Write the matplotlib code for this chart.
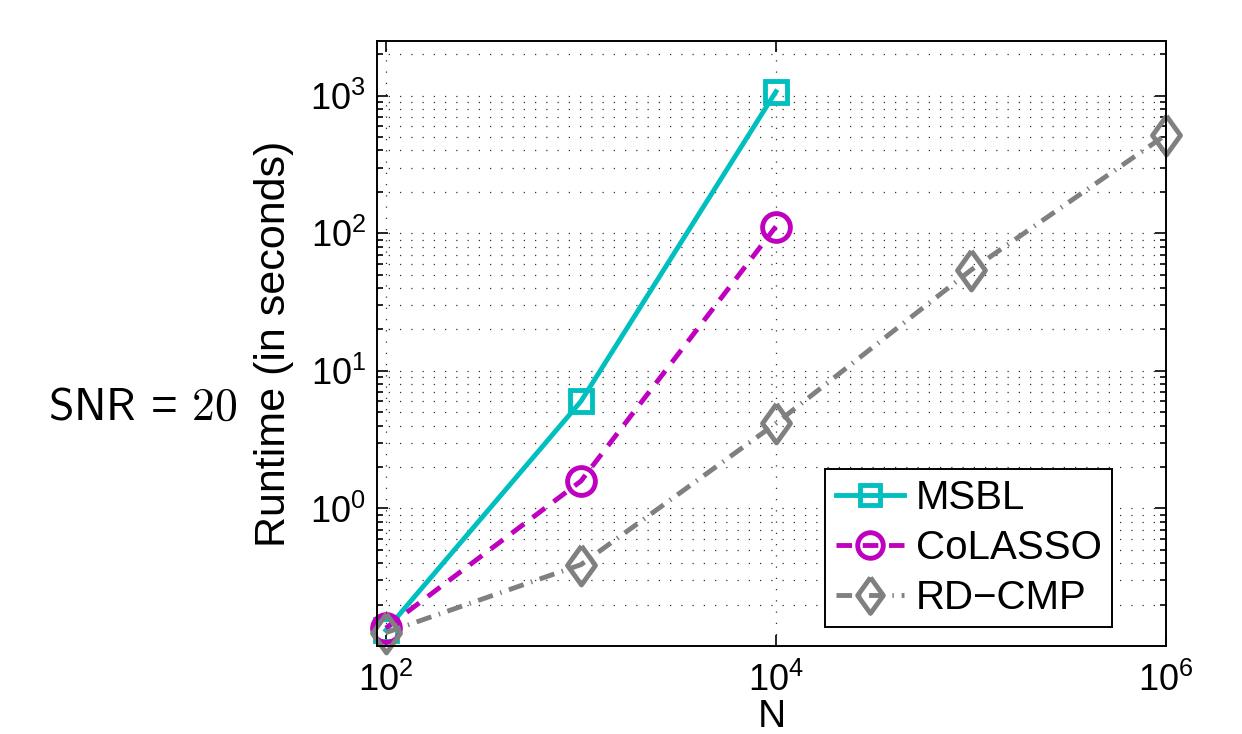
import numpy as np
from matplotlib import pyplot as plt
from matplotlib.ticker import LogLocator, FixedLocator, FuncFormatter, NullFormatter

plt.rcParams['font.family'] = ['Liberation Sans', 'DejaVu Sans']
plt.rcParams['mathtext.fontset'] = 'custom'
plt.rcParams['mathtext.rm'] = 'Liberation Sans'
plt.rcParams['mathtext.default'] = 'regular'

# data
n_msbl = [1e2, 1e3, 1e4]
t_msbl = [0.13, 6.0, 1070]
n_colasso = [1e2, 1e3, 1e4]
t_colasso = [0.135, 1.58, 112]
n_rdcmp = [1e2, 1e3, 1e4, 1e5, 1e6]
t_rdcmp = [0.125, 0.39, 4.15, 54, 520]

x_ticks = [1e2, 1e4, 1e6]
y_ticks = [1e0, 1e1, 1e2, 1e3]

cyan = '#00bfbf'
magenta = '#bf00bf'
gray = '#808080'
diamond = [(0, 1), (0.72, 0), (0, -1), (-0.72, 0), (0, 1)]
lw = 3.5

fig = plt.figure(figsize=(12.42, 7.34), dpi=100)
ax = fig.add_axes([0.3035, 0.1199, 0.6353, 0.8243])

ax.plot(n_msbl, t_msbl, color=cyan, lw=lw, ls='-', marker='s', ms=16,
        mfc='none', mec=cyan, mew=lw, label='MSBL', clip_on=False)
ax.plot(n_colasso, t_colasso, color=magenta, lw=lw, ls=(0, (3.2, 2.2)), marker='o', ms=20,
        mfc='none', mec=magenta, mew=lw, label='CoLASSO', clip_on=False)
ax.plot(n_rdcmp, t_rdcmp, color=gray, lw=lw, ls=(0, (3.2, 1.6, 0.3, 1.6)), marker=diamond, ms=28,
        mfc='none', mec=gray, mew=lw, label='RD\u2212CMP', clip_on=False)

ax.set_xscale('log')
ax.set_yscale('log')
ax.set_xlim(90, 1e6)
ax.set_ylim(0.1, 2500)

ax.xaxis.set_major_locator(FixedLocator(x_ticks))
ax.xaxis.set_minor_locator(FixedLocator([]))
ax.yaxis.set_major_locator(FixedLocator(y_ticks))
ax.yaxis.set_minor_locator(LogLocator(base=10, subs=np.arange(2, 10), numticks=20))
ax.yaxis.set_minor_formatter(NullFormatter())

fmt = FuncFormatter(lambda v, p: r'$10^{%d}$' % int(round(np.log10(v))))
ax.xaxis.set_major_formatter(fmt)
ax.yaxis.set_major_formatter(fmt)

ax.tick_params(which='both', direction='in', top=True, right=True, labelsize=26, width=1.2)
ax.tick_params(which='major', length=8)
ax.tick_params(which='minor', length=4)
ax.tick_params(axis='x', pad=12)
ax.tick_params(axis='y', pad=8)

ax.grid(True, which='major', axis='x', color='#333333', lw=0.9, ls=(0, (1, 8)))
ax.grid(True, which='both', axis='y', color='#333333', lw=0.9, ls=(0, (1, 8)))
for s in ax.spines.values():
    s.set_linewidth(1.4)

ax.set_xlabel('N', fontsize=28, labelpad=0)
ax.set_ylabel('Runtime (in seconds)', fontsize=31, labelpad=12)

leg = ax.legend(loc='lower right', fontsize=29, handlelength=1.7, numpoints=1,
                fancybox=False, framealpha=1, edgecolor='black',
                borderpad=0.25, labelspacing=0.3, handletextpad=0.3,
                borderaxespad=0, bbox_to_anchor=(0.9316, 0.0314))
leg.get_frame().set_linewidth(1.4)
for h in leg.legend_handles:
    h.set_markersize(h.get_markersize() * 0.92)

fig.text(48 / 1242, 1 - 408 / 734, r'$\mathsf{SNR}\,=\,\mathrm{20}$', fontsize=33,
         ha='left', va='center', math_fontfamily='cm')

fig.savefig('out.png', dpi=100)
